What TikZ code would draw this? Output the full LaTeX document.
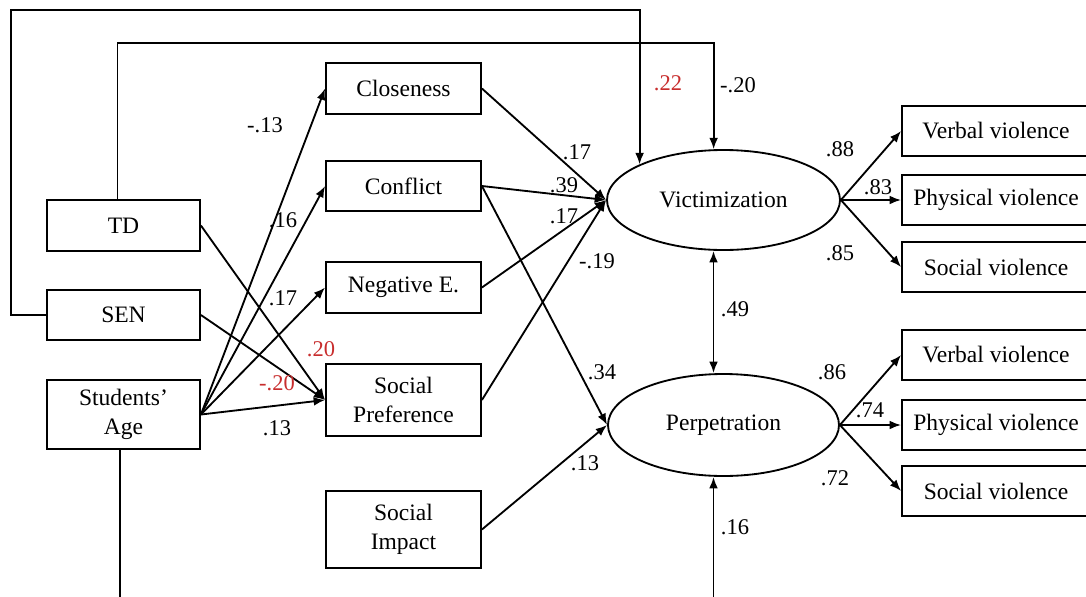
\documentclass[tikz,border=0pt]{standalone}
\usepackage{fontspec}
\setmainfont{Liberation Serif}
\usetikzlibrary{arrows.meta,shapes.geometric}
\definecolor{coefred}{RGB}{200,45,45}
\newcommand{\pxu}{0.02cm}
\begin{document}
\begin{tikzpicture}[x=0.02cm,y=-0.02cm,
  box/.style={draw, line width=1.05pt, rectangle, inner sep=0pt, align=center,
    font=\fontsize{13.4}{16.6}\selectfont},
  obs/.style={box, minimum width=188*\pxu, minimum height=50*\pxu},
  mid/.style={box, minimum width=155*\pxu},
  lft/.style={box, minimum width=153*\pxu},
  lv/.style={draw, ellipse, line width=1.05pt, inner sep=0pt,
    font=\fontsize{13.4}{16.6}\selectfont},
  lbl/.style={inner sep=0pt, font=\fontsize{12.8}{14}\selectfont},
  red/.style={lbl, text=coefred},
  arr/.style={-{Latex[length=6.5pt,width=5pt]}, line width=1.05pt},
  darr/.style={{Latex[length=6.5pt,width=5pt]}-{Latex[length=6.5pt,width=5pt]}, line width=1.05pt}]

\path[use as bounding box] (0,0) rectangle (1086,596);
\fill[white] (0,0) rectangle (1086,596);
\clip (0,0) rectangle (1086,596);

% exogenous predictors
\node[lft, minimum height=51*\pxu] (TD)  at (123.5,225.5) {TD};
\node[lft, minimum height=50*\pxu] (SEN) at (123.5,315) {SEN};
\node[lft, minimum height=69*\pxu] (Age) at (123.5,414.5) {Students’\\Age};

% relationship and peer-status variables
\node[mid, minimum height=51*\pxu] (Close) at (403.5,88.5) {Closeness};
\node[mid, minimum height=50*\pxu] (Conf)  at (403.5,186) {Conflict};
\node[mid, minimum height=51*\pxu] (NegE)  at (403.5,287.5) {Negative E.};
\node[mid, minimum height=72*\pxu] (SPref) at (403.5,400) {Social\\Preference};
\node[mid, minimum height=77*\pxu] (SImp)  at (403.5,529.5) {Social\\Impact};

% latent outcomes
\node[lv, minimum width=233*\pxu, minimum height=100*\pxu] (Vic)  at (723.5,200) {Victimization};
\node[lv, minimum width=231*\pxu, minimum height=102*\pxu] (Perp) at (723.5,425) {Perpetration};

% indicators
\node[obs] (V1) at (996,131) {Verbal violence};
\node[obs] (P1) at (996,200) {Physical violence};
\node[obs] (S1) at (996,267) {Social violence};
\node[obs] (V2) at (996,355) {Verbal violence};
\node[obs] (P2) at (996,425) {Physical violence};
\node[obs] (S2) at (996,491) {Social violence};

% routing rows for the long paths
\coordinate (toprow) at (0,10);
\coordinate (tdrow)  at (0,43);
\coordinate (botrow) at (0,640);

% paths from students' age and the two group variables
\draw[arr] (Age.east) -- (Close.west);
\draw[arr] (Age.east) -- (Conf.west);
\draw[arr] (Age.east) -- (NegE.west);
\draw[arr] (Age.east) -- (SPref.west);
\draw[arr] (TD.east)  -- (SPref.west);
\draw[arr] (SEN.east) -- (SPref.west);

% paths into victimization and perpetration
\draw[arr] (Close.east) -- (Vic.west);
\draw[arr] (Conf.east)  -- (Vic.west);
\draw[arr] (NegE.east)  -- (Vic.west);
\draw[arr] (SPref.east) -- (Vic.west);
\draw[arr] (Conf.east)  -- (Perp.west);
\draw[arr] (SImp.east)  -- (Perp.west);

% long paths
\draw[arr] (SEN.west) -- ++(-35,0) |- (Vic.157 |- toprow) -- (Vic.157);
\draw[arr] ([xshift=-0.12cm]TD.north) |- (Vic.101 |- tdrow) -- (Vic.101);
\draw[arr] ([xshift=-0.07cm]Age.south) |- (botrow) -| ([xshift=-0.2cm]Perp.south);
\draw[darr] ([xshift=-0.2cm]Vic.south) -- ([xshift=-0.2cm]Perp.north);

% measurement paths
\draw[arr] (Vic.east)  -- (V1.west);
\draw[arr] (Vic.east)  -- (P1.west);
\draw[arr] (Vic.east)  -- (S1.west);
\draw[arr] (Perp.east) -- (V2.west);
\draw[arr] (Perp.east) -- (P2.west);
\draw[arr] (Perp.east) -- (S2.west);

% coefficients
\node[lbl] (c1)  at (265,125) {-.13};
\node[lbl] (c2)  at (283,220) {.16};
\node[lbl] (c3)  at (283,298) {.17};
\node[red] (c4)  at (321,349) {.20};
\node[red] (c5)  at (277,383) {-.20};
\node[lbl] (c6)  at (277,428) {.13};
\node[lbl] (c7)  at (577,152) {.17};
\node[lbl] (c8)  at (564,185) {.39};
\node[lbl] (c9)  at (564,216) {.17};
\node[lbl] (c10) at (597,261) {-.19};
\node[lbl] (c11) at (602,372) {.34};
\node[lbl] (c12) at (585,463) {.13};
\node[red] (c13) at (668,83)  {.22};
\node[lbl] (c14) at (738,85)  {-.20};
\node[lbl] (c15) at (840,149) {.88};
\node[lbl] (c16) at (878,187) {.83};
\node[lbl] (c17) at (840,253) {.85};
\node[lbl] (c18) at (735,309) {.49};
\node[lbl] (c19) at (832,372) {.86};
\node[lbl] (c20) at (870,410) {.74};
\node[lbl] (c21) at (835,478) {.72};
\node[lbl] (c22) at (735,527) {.16};
\end{tikzpicture}
\end{document}
